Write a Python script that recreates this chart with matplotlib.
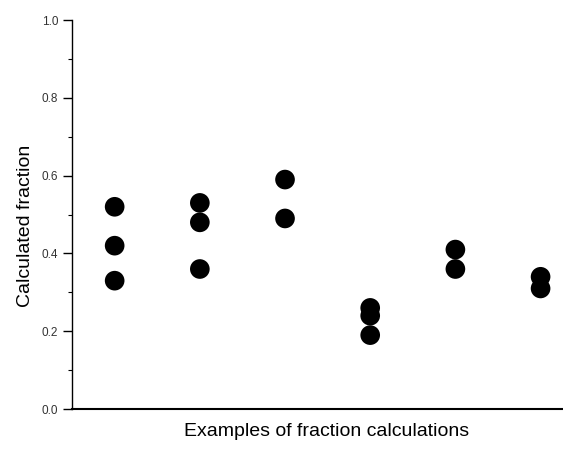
import numpy as np
import matplotlib as mpl
mpl.use('Agg')
from matplotlib import pyplot as plt
import matplotlib.ticker as ticker

plt.rcParams["font.family"] = ["Liberation Sans", "DejaVu Sans"]

# calculated fractions, one group per example
examples = [1, 2, 3, 4, 5, 6]
fractions = [
    [0.52, 0.42, 0.33],
    [0.53, 0.48, 0.36],
    [0.59, 0.49],
    [0.26, 0.24, 0.19],
    [0.41, 0.36],
    [0.34, 0.31],
]

fig = plt.figure(figsize=(5.63, 4.57), dpi=100)
ax = fig.add_axes([0.128, 0.105, 0.87, 0.851])

for xi, vals in zip(examples, fractions):
    ax.scatter([xi] * len(vals), vals, s=200, color='black', edgecolors='none', zorder=3)

ax.set_xlim(0.5, 6.25)
ax.set_ylim(0.0, 1.0)
ax.set_xticks([])
ax.yaxis.set_major_locator(ticker.MultipleLocator(0.2))
ax.yaxis.set_minor_locator(ticker.MultipleLocator(0.1))
ax.yaxis.set_major_formatter(ticker.FormatStrFormatter('%.1f'))
ax.tick_params(axis='y', which='major', direction='out', length=6.5, width=1.0,
               labelsize=8.5, labelcolor='#333333', pad=3.5)
ax.tick_params(axis='y', which='minor', direction='out', length=3, width=0.8)

ax.spines['top'].set_visible(False)
ax.spines['right'].set_visible(False)
ax.spines['left'].set_linewidth(1.0)
ax.spines['bottom'].set_linewidth(1.5)

ax.set_ylabel('Calculated fraction', fontsize=14)
ax.set_xlabel('Examples of fraction calculations', fontsize=14)
ax.yaxis.set_label_coords(-0.078, 0.47)
ax.xaxis.set_label_coords(0.52, -0.037)

plt.savefig('out.png', dpi=100)
